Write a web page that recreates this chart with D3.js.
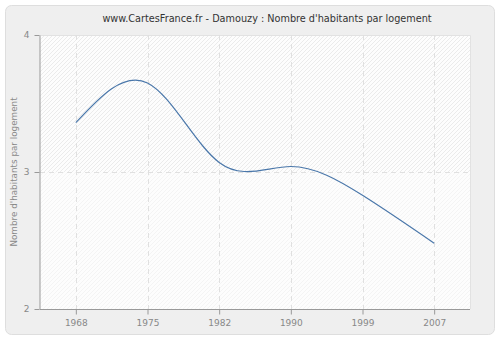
<!DOCTYPE html>
<html>
<head>
<meta charset="utf-8">
<script src="https://cdn.jsdelivr.net/npm/d3@7/dist/d3.min.js"></script>
<style>
  html, body { margin: 0; padding: 0; background: #ffffff; }
  svg { display: block; font-family: "DejaVu Sans", Verdana, sans-serif; }
</style>
</head>
<body>
<svg id="chart" width="500" height="340"></svg>
<script>
// Census years and average number of inhabitants per dwelling
const years = ["1968", "1975", "1982", "1990", "1999", "2007"];
const habitantsParLogement = [3.36, 3.65, 3.07, 3.04, 2.83, 2.48];
const yTicks = [2, 3, 4];
const titre = "www.CartesFrance.fr - Damouzy : Nombre d'habitants par logement";
const titreAxeY = "Nombre d'habitants par logement";

const svg = d3.select("#chart");
const W = 500, H = 340;
const plot = { left: 40, right: 470, top: 35, bottom: 309 };

// outer panel
svg.append("rect")
  .attr("x", 5.5).attr("y", 5.5)
  .attr("width", W - 11).attr("height", H - 11)
  .attr("rx", 6).attr("ry", 6)
  .attr("fill", "#efefef")
  .attr("stroke", "#dedede");

const defs = svg.append("defs");
function hatch(id, color) {
  const p = defs.append("pattern")
    .attr("id", id)
    .attr("patternUnits", "userSpaceOnUse")
    .attr("width", 4).attr("height", 4);
  p.append("rect").attr("width", 4).attr("height", 4).attr("fill", "#fdfdfd");
  p.append("path")
    .attr("d", "M-1,1 L1,-1 M0,4 L4,0 M3,5 L5,3")
    .attr("stroke", color).attr("stroke-width", 0.8);
}
hatch("hatchHaut", "#e6e6e6");
hatch("hatchBas", "#f1f1f1");

const x = d3.scalePoint().domain(years).range([plot.left, plot.right]).padding(0.5);
const y = d3.scaleLinear().domain([2, 4]).range([plot.bottom, plot.top]);

// plot background: hatched above 3, paler below
svg.append("rect")
  .attr("x", plot.left).attr("y", plot.top)
  .attr("width", plot.right - plot.left).attr("height", y(3) - plot.top)
  .attr("fill", "url(#hatchHaut)");
svg.append("rect")
  .attr("x", plot.left).attr("y", y(3))
  .attr("width", plot.right - plot.left).attr("height", plot.bottom - y(3))
  .attr("fill", "url(#hatchBas)");

// faint frame on top and right
svg.append("path")
  .attr("d", `M${plot.left},${plot.top + 0.5}H${plot.right + 0.5}V${plot.bottom}`)
  .attr("fill", "none").attr("stroke", "#e2e2e2");

// grid
const grid = svg.append("g").attr("stroke", "#e0e0e0").attr("stroke-dasharray", "5,4");
grid.selectAll("line.v").data(years).join("line")
  .attr("x1", d => Math.round(x(d)) + 0.5).attr("x2", d => Math.round(x(d)) + 0.5)
  .attr("y1", plot.top).attr("y2", plot.bottom);
grid.selectAll("line.h").data(yTicks.filter(t => t > 2 && t < 4)).join("line")
  .attr("x1", plot.left).attr("x2", plot.right)
  .attr("y1", d => Math.round(y(d)) + 0.5).attr("y2", d => Math.round(y(d)) + 0.5);

// axes
const xAxis = svg.append("g")
  .attr("transform", `translate(0,${plot.bottom + 0.5})`)
  .call(d3.axisBottom(x).tickSize(5).tickSizeOuter(0).tickPadding(5));
const yAxis = svg.append("g")
  .attr("transform", `translate(${plot.left - 0.5},0)`)
  .call(d3.axisLeft(y).tickValues(yTicks).tickFormat(d3.format("d"))
    .tickSize(5).tickSizeOuter(0).tickPadding(5));
[xAxis, yAxis].forEach(g => {
  g.select(".domain").attr("stroke", "#999999");
  g.selectAll(".tick line").attr("stroke", "#999999");
  g.selectAll(".tick text").attr("fill", "#888888").attr("font-size", 9)
    .attr("font-family", "DejaVu Sans, Verdana, sans-serif");
});
xAxis.select(".domain").attr("d", `M${plot.left},0H${plot.right}`);

// line
const line = d3.line()
  .x((d, i) => x(years[i]))
  .y(d => y(d))
  .curve(d3.curveNatural);
svg.append("path")
  .datum(habitantsParLogement)
  .attr("d", line)
  .attr("fill", "none")
  .attr("stroke", "#4a77aa")
  .attr("stroke-width", 1.2);

// title
svg.append("text")
  .attr("x", 267).attr("y", 22)
  .attr("text-anchor", "middle")
  .attr("font-size", 9.7)
  .attr("fill", "#333333")
  .text(titre);

// y axis title
svg.append("text")
  .attr("transform", `translate(16.5,${(plot.top + plot.bottom) / 2}) rotate(-90)`)
  .attr("text-anchor", "middle")
  .attr("font-size", 8.8)
  .attr("fill", "#888888")
  .text(titreAxeY);
</script>
</body>
</html>
